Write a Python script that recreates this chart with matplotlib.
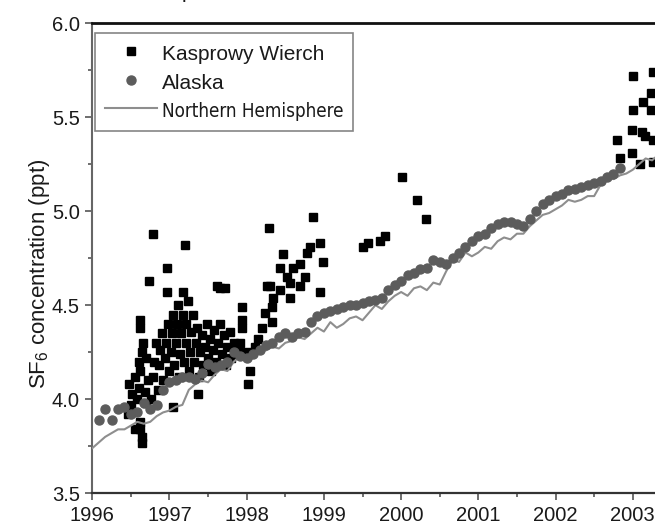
import numpy as np
import matplotlib
matplotlib.use("Agg")
import matplotlib.pyplot as plt
from matplotlib import font_manager as fm
from matplotlib.ticker import MultipleLocator

plt.rcParams['font.family'] = ['Liberation Sans', 'DejaVu Sans']
plt.rcParams['mathtext.default'] = 'regular'

# Northern Hemisphere mean, monthly from Jan 1996
nh_start = 1996.0
nh_vals = [3.74, 3.77, 3.80, 3.82, 3.84, 3.84, 3.86, 3.88, 3.87, 3.88, 3.91, 3.93,
           3.94, 3.96, 3.97, 4.05, 4.08, 4.10, 4.09, 4.13, 4.16, 4.15, 4.20, 4.23,
           4.20, 4.22, 4.25, 4.26, 4.28, 4.27, 4.30, 4.31, 4.33, 4.32, 4.35, 4.38,
           4.36, 4.41, 4.38, 4.40, 4.43, 4.44, 4.42, 4.46, 4.50, 4.48, 4.52, 4.55,
           4.57, 4.55, 4.59, 4.60, 4.58, 4.62, 4.61, 4.68, 4.74, 4.73, 4.78, 4.76,
           4.78, 4.81, 4.80, 4.84, 4.86, 4.85, 4.88, 4.88, 4.92, 4.95, 4.98, 4.99,
           5.01, 5.03, 5.06, 5.05, 5.06, 5.08, 5.08, 5.14, 5.18, 5.17, 5.19, 5.20,
           5.22, 5.25, 5.28, 5.27, 5.30]

# Alaska, monthly from Feb 1996
ak_start = 1996.0 + 1 / 12
ak_vals = [3.89, 3.95, 3.89, 3.95, 3.96, 3.92, 3.93, 3.98, 3.95, 3.97, 4.05,
           4.09, 4.10, 4.12, 4.12, 4.11, 4.14, 4.19, 4.17, 4.18, 4.20, 4.25, 4.23,
           4.22, 4.24, 4.26, 4.29, 4.30, 4.33, 4.35, 4.33, 4.35, 4.36, 4.41, 4.44,
           4.46, 4.47, 4.48, 4.49, 4.50, 4.50, 4.51, 4.52, 4.53, 4.54, 4.58, 4.61,
           4.63, 4.66, 4.67, 4.69, 4.70, 4.74, 4.73, 4.72, 4.75, 4.78, 4.81, 4.84,
           4.87, 4.88, 4.91, 4.93, 4.94, 4.94, 4.93, 4.92, 4.96, 5.00, 5.04, 5.06,
           5.08, 5.09, 5.11, 5.12, 5.13, 5.14, 5.15, 5.16, 5.18, 5.20, 5.23]

# Kasprowy Wierch samples
kw_year = [1996.55, 1996.62, 1996.64, 1996.64, 1996.62, 1996.46, 1996.50, 1996.52, 1996.48, 1996.55,
           1996.58, 1996.60, 1996.62, 1996.60, 1996.65, 1996.62, 1996.62, 1996.66, 1996.70, 1996.72,
           1996.70, 1996.68, 1996.73, 1996.79, 1996.97, 1996.97, 1997.18, 1997.20,
           1996.76, 1996.78, 1996.80, 1996.82, 1996.85, 1996.87, 1996.88, 1996.90, 1996.92, 1996.94,
           1996.96, 1996.98, 1996.99,
           1997.02, 1997.03, 1997.04, 1997.05, 1997.06, 1997.08, 1997.10, 1997.11, 1997.12, 1997.14,
           1997.15, 1997.17, 1997.19, 1997.21, 1997.22, 1997.24, 1997.25, 1997.27, 1997.28, 1997.30,
           1997.32, 1997.34, 1997.36, 1997.37, 1997.38, 1997.40, 1997.42, 1997.44, 1997.46, 1997.48,
           1997.50, 1997.52, 1997.54, 1997.56, 1997.58,
           1997.61, 1997.66, 1997.72, 1997.60, 1997.63, 1997.65, 1997.68, 1997.70, 1997.73, 1997.75,
           1997.78, 1997.80, 1997.83, 1997.86, 1997.88, 1997.91,
           1997.89, 1998.00, 1998.04, 1998.02, 1997.94, 1997.94, 1997.94,
           1998.86, 1998.29, 1998.95, 1998.82, 1998.47, 1998.99, 1998.78, 1998.69, 1998.60, 1998.43,
           1998.76, 1998.52, 1998.69, 1998.26, 1998.56, 1998.43, 1998.95, 1998.56, 1998.34, 1998.33,
           1998.24, 1998.33, 1998.20, 1998.15, 1998.11, 1998.30,
           1999.51, 1999.57, 1999.73, 1999.79, 2000.01, 2000.20, 2000.32,
           2003.00, 2003.26, 2003.24, 2003.13, 2003.00, 2003.24, 2002.99, 2003.12, 2003.16, 2003.26,
           2002.80, 2002.99, 2002.84, 2003.09, 2003.26]
kw_conc = [3.84, 3.84, 3.77, 3.80, 3.88, 3.92, 3.97, 4.03, 4.08, 4.12,
           4.00, 4.06, 4.15, 4.20, 4.25, 4.38, 4.42, 4.30, 4.22, 4.10,
           3.98, 4.04, 4.63, 4.88, 4.70, 4.57, 4.57, 4.82,
           4.00, 4.12, 4.20, 4.30, 4.05, 4.18, 4.26, 4.35, 4.10, 4.22,
           4.30, 4.40, 4.15,
           4.25, 4.35, 4.45, 3.96, 4.18, 4.30, 4.40, 4.50, 4.12, 4.24,
           4.35, 4.45, 4.20, 4.30, 4.40, 4.52, 4.15, 4.25, 4.36, 4.45,
           4.20, 4.30, 4.38, 4.03, 4.12, 4.25, 4.34, 4.18, 4.28, 4.40,
           4.22, 4.32, 4.15, 4.26, 4.37,
           4.60, 4.59, 4.59, 4.20, 4.30, 4.40, 4.24, 4.34, 4.18, 4.28,
           4.36, 4.22, 4.30, 4.25, 4.26, 4.30,
           4.26, 4.25, 4.15, 4.08, 4.49, 4.42, 4.38,
           4.97, 4.91, 4.83, 4.81, 4.77, 4.73, 4.78, 4.72, 4.70, 4.70,
           4.65, 4.65, 4.60, 4.60, 4.62, 4.58, 4.57, 4.54, 4.54, 4.49,
           4.46, 4.41, 4.38, 4.32, 4.28, 4.60,
           4.81, 4.83, 4.84, 4.87, 5.18, 5.06, 4.96,
           5.72, 5.74, 5.63, 5.58, 5.54, 5.54, 5.43, 5.42, 5.40, 5.38,
           5.38, 5.31, 5.28, 5.25, 5.26]

nh_year = nh_start + np.arange(len(nh_vals)) / 12
ak_year = ak_start + np.arange(len(ak_vals)) / 12

fig = plt.figure(figsize=(6.55, 5.28), dpi=100)
ax = fig.add_axes([0.1409, 0.0657, 0.943, 0.8907])

ax.plot(kw_year, kw_conc, ls='none', marker='s', ms=6, color='black', mec='black',
        label='Kasprowy Wierch', zorder=2)
ax.plot(nh_year, nh_vals, color='#8e8e8e', lw=1.5, label='Northern Hemisphere', zorder=3)
ax.plot(ak_year, ak_vals, ls='none', marker='o', ms=6.5, color='#5c5c5c', mec='#5c5c5c',
        label='Alaska', zorder=4)

ax.set_xlim(1996, 2004)
ax.set_ylim(3.5, 6.0)
ax.xaxis.set_major_locator(MultipleLocator(1))
ax.xaxis.set_minor_locator(MultipleLocator(0.5))
ax.yaxis.set_major_locator(MultipleLocator(0.5))
ax.yaxis.set_minor_locator(MultipleLocator(0.25))
ax.xaxis.set_major_formatter(plt.FuncFormatter(lambda v, p: '%d' % v))
ax.yaxis.set_major_formatter(plt.FuncFormatter(lambda v, p: '%.1f' % v))

ax.tick_params(which='major', direction='out', length=5, width=1.2, labelsize=14.5,
               colors='#555555', labelcolor='#1a1a1a', pad=4)
ax.tick_params(which='minor', direction='out', length=3, width=1.2, colors='#555555')

ax.spines['left'].set_color('#666666')
ax.spines['left'].set_linewidth(1.5)
ax.spines['bottom'].set_color('#333333')
ax.spines['bottom'].set_linewidth(1.6)
ax.spines['top'].set_color('#111111')
ax.spines['top'].set_linewidth(2)
ax.spines['right'].set_visible(False)

ax.set_ylabel('SF$_6$ concentration (ppt)', fontsize=16, color='#1a1a1a')
ax.yaxis.set_label_coords(-0.066, 0.466)

handles, labels = ax.get_legend_handles_labels()
order = [0, 2, 1]
leg = ax.legend([handles[i] for i in order], [labels[i] for i in order],
                loc='upper left', bbox_to_anchor=(0.005, 0.979), borderaxespad=0,
                fontsize=15, frameon=True, fancybox=False, edgecolor='#666666',
                handlelength=2.5, handletextpad=0.25, borderpad=0.45,
                labelspacing=0.33, handleheight=1.2)
leg.get_frame().set_linewidth(1.2)

# narrow face for the last legend entry, as in the original
names = set(f.name for f in fm.fontManager.ttflist)
nh_text = leg.get_texts()[2]
if 'Liberation Sans Narrow' in names:
    nh_text.set_family('Liberation Sans Narrow')
else:
    cond = [f for f in fm.fontManager.ttflist
            if f.name == 'DejaVu Sans' and 'condensed' in str(f.stretch).lower()
            and f.style == 'normal' and f.weight in (400, 'normal')]
    if cond:
        nh_text.set_fontproperties(fm.FontProperties(fname=cond[0].fname, size=13.5))
    else:
        nh_text.set_fontsize(13.3)
for t in leg.get_texts():
    t.set_color('#1a1a1a')

# cut-off title above the plot
fig.text(182 / 655, 1.004, 'p', fontsize=15, ha='left', va='baseline', color='#1a1a1a')

fig.savefig('out.png', dpi=100)
